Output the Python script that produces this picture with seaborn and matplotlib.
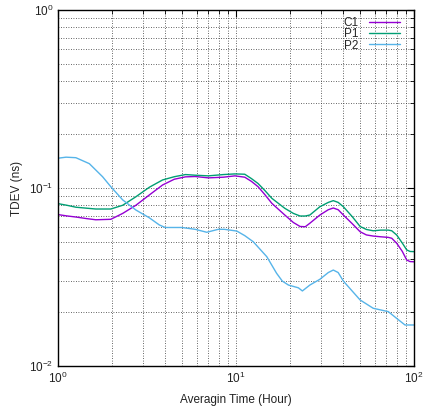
import numpy as np
import pandas as pd
import matplotlib
matplotlib.use("Agg")
import matplotlib.pyplot as plt
import matplotlib.ticker as mticker
import seaborn as sns

# ---- data ----
x_cp = [1.0, 1.12, 1.26, 1.45, 1.63, 1.98, 2.31, 2.74, 3.26, 3.87, 4.5, 5.2, 5.9,
        7.0, 8.5, 9.87, 11.2, 12.2, 13.3, 14.5, 15.9, 18.8, 21.0, 22.9, 24.5, 26.0,
        29.6, 33.0, 35.2, 37.5, 40.1, 45.0, 49.8, 54.0, 59.0, 65.0, 71.7, 75.0,
        80.0, 86.0, 91.0, 95.0, 100.0]
c1 = [0.0709, 0.0697, 0.0687, 0.0673, 0.0663, 0.0667, 0.072, 0.080, 0.0914, 0.104,
      0.112, 0.1155, 0.116, 0.114, 0.115, 0.117, 0.115, 0.109, 0.1017, 0.092,
      0.082, 0.0705, 0.064, 0.0608, 0.0606, 0.0634, 0.0705, 0.0755, 0.0772, 0.0755,
      0.0705, 0.063, 0.0568, 0.0545, 0.0537, 0.0532, 0.0528, 0.0522, 0.0489, 0.044,
      0.0394, 0.0386, 0.0385]
p1 = [0.0817, 0.080, 0.078, 0.077, 0.0762, 0.0762, 0.080, 0.0893, 0.101, 0.111,
      0.1157, 0.119, 0.118, 0.117, 0.119, 0.120, 0.1195, 0.113, 0.106, 0.097,
      0.0875, 0.0769, 0.072, 0.0696, 0.0696, 0.0705, 0.0785, 0.083, 0.0849, 0.083,
      0.0785, 0.069, 0.0608, 0.0585, 0.0575, 0.058, 0.058, 0.0575, 0.0544, 0.049,
      0.0449, 0.0440, 0.0439]
x_p2 = [1.0, 1.11, 1.26, 1.5, 1.78, 1.98, 2.31, 2.74, 3.26, 3.71, 4.0, 4.95, 5.9,
        6.85, 7.95, 8.6, 10.1, 11.2, 12.5, 14.9, 16.9, 18.2, 19.7, 22.4, 23.6, 26.0,
        29.6, 33.0, 35.2, 37.5, 40.1, 49.8, 59.0, 71.7, 80.0, 89.0, 100.0]
p2 = [0.147, 0.149, 0.148, 0.137, 0.1157, 0.1017, 0.0857, 0.0752, 0.068, 0.062,
      0.060, 0.060, 0.0586, 0.0564, 0.0586, 0.0586, 0.0573, 0.054, 0.0499, 0.0411,
      0.0332, 0.030, 0.0285, 0.0275, 0.0264, 0.0285, 0.0307, 0.0335, 0.0346, 0.0335,
      0.0300, 0.0235, 0.0211, 0.0202, 0.0185, 0.017, 0.017]
series_names = ["C1", "P1", "P2"]
colors = ["#9400d3", "#009e73", "#56b4e9"]

df = pd.concat([
    pd.DataFrame({"x": x_cp, "y": c1, "s": "C1"}),
    pd.DataFrame({"x": x_cp, "y": p1, "s": "P1"}),
    pd.DataFrame({"x": x_p2, "y": p2, "s": "P2"}),
], ignore_index=True)

sns.set_style("white")
plt.rcParams["font.family"] = ["Liberation Sans", "DejaVu Sans"]
plt.rcParams["mathtext.fontset"] = "custom"
plt.rcParams["mathtext.rm"] = "Liberation Sans"
plt.rcParams["mathtext.it"] = "Liberation Sans"

fig = plt.figure(figsize=(4.24, 4.08), dpi=100)
ax = fig.add_axes([58/424, 1-366/408, (414-58)/424, (366-10)/408])

sns.lineplot(data=df, x="x", y="y", hue="s", palette=dict(zip(series_names, colors)),
             estimator=None, sort=False, lw=1.0, ax=ax, legend=True)

ax.set_xscale("log")
ax.set_yscale("log")
ax.set_xlim(1, 100)
ax.set_ylim(0.01, 1)

ax.xaxis.set_major_locator(mticker.LogLocator(base=10, numticks=10))
ax.yaxis.set_major_locator(mticker.LogLocator(base=10, numticks=10))
ax.xaxis.set_minor_locator(mticker.LogLocator(base=10, subs=np.arange(2, 10), numticks=10))
ax.yaxis.set_minor_locator(mticker.LogLocator(base=10, subs=np.arange(2, 10), numticks=10))
ax.xaxis.set_minor_formatter(mticker.NullFormatter())
ax.yaxis.set_minor_formatter(mticker.NullFormatter())
fmt = mticker.FuncFormatter(lambda v, p: r"$10^{%d}$" % round(np.log10(v)))
ax.xaxis.set_major_formatter(fmt)
ax.yaxis.set_major_formatter(fmt)

ax.grid(True, which="both", color="#333333", linestyle=(0, (1, 2)), linewidth=0.6)
ax.tick_params(which="both", direction="in", top=True, right=True, colors="black",
               labelsize=8.5, labelcolor="#222222")
ax.tick_params(which="major", length=5, width=0.8)
ax.tick_params(which="minor", length=3, width=0.6)
for sp in ax.spines.values():
    sp.set_color("black")
    sp.set_linewidth(1.0)

ax.set_xlabel("Averagin Time (Hour)", fontsize=8.5, color="#222222", labelpad=6)
ax.set_ylabel("TDEV (ns)", fontsize=8.5, color="#222222", labelpad=4)

handles, labels = ax.get_legend_handles_labels()
leg = ax.legend(handles, labels, loc="upper right", frameon=False, markerfirst=False,
                fontsize=8.5, handlelength=2.7, handletextpad=0.85, labelspacing=-0.07,
                borderaxespad=0.3, bbox_to_anchor=(0.985, 1.003))

fig.savefig("out.png", dpi=100)
